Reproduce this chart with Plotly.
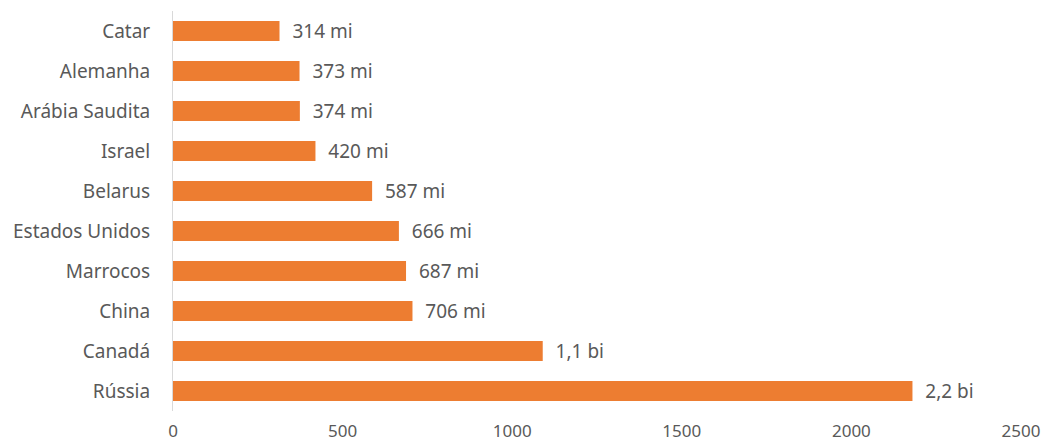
import plotly.graph_objects as go

countries = ["Catar", "Alemanha", "Arábia Saudita", "Israel", "Belarus",
             "Estados Unidos", "Marrocos", "China", "Canadá", "Rússia"]
values = [314, 373, 374, 420, 587, 666, 687, 706, 1090, 2180]
labels = ["314 mi", "373 mi", "374 mi", "420 mi", "587 mi",
          "666 mi", "687 mi", "706 mi", "1,1 bi", "2,2 bi"]
x_ticks = [0, 500, 1000, 1500, 2000, 2500]

FONT = "Noto Sans"
GRAY = "#595959"

fig = go.Figure(go.Bar(
    y=countries, x=values, orientation="h",
    marker=dict(color="#ED7D31", line=dict(width=0)),
    text=["\u00a0\u00a0" + t for t in labels], textposition="outside",
    textfont=dict(color=GRAY, size=19, family=FONT),
    constraintext="none",
    cliponaxis=False,
))

fig.update_layout(
    width=1041, height=445,
    margin=dict(l=173, r=20, t=11, b=34),
    paper_bgcolor="white", plot_bgcolor="white",
    bargap=0.5,
    showlegend=False,
    font=dict(family=FONT, color=GRAY, size=18),
)
fig.update_xaxes(range=[0, 2500], tickvals=x_ticks, showgrid=False, zeroline=False,
                 showline=False, ticks="outside", ticklen=5, tickcolor="rgba(0,0,0,0)",
                 tickfont=dict(size=17, color=GRAY, family=FONT), automargin=False,
                 ticklabeloverflow="allow")
fig.update_yaxes(categoryorder="array", categoryarray=countries[::-1],
                 showgrid=False, zeroline=False, showline=True, linecolor="#D9D9D9", linewidth=1,
                 ticks="", ticklabelstandoff=18, tickfont=dict(size=19, color=GRAY, family=FONT),
                 automargin=False)

fig.write_html("out.html")
